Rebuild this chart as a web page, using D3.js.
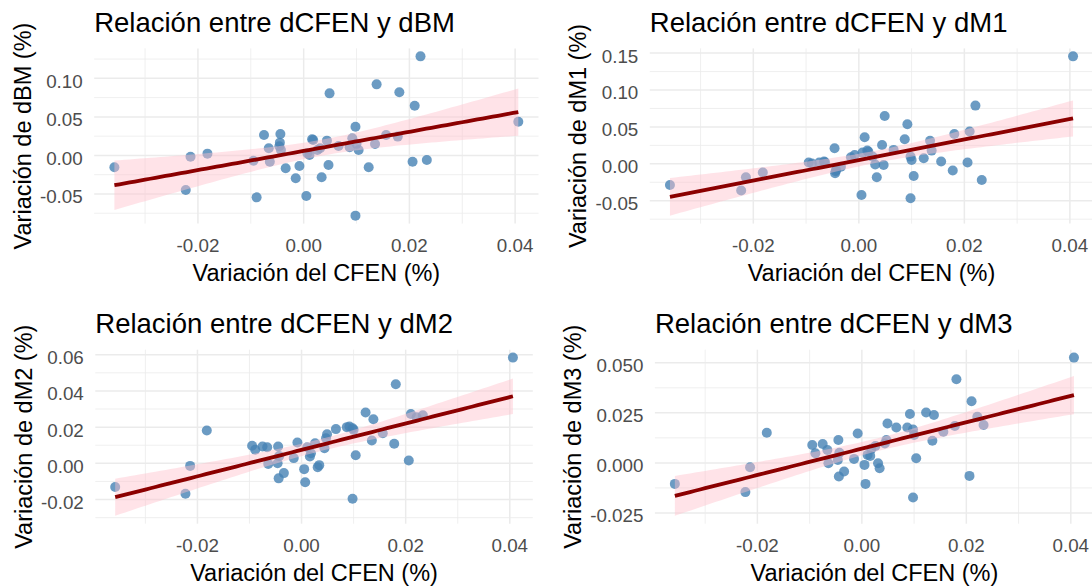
<!DOCTYPE html>
<html>
<head>
<meta charset="utf-8">
<script src="https://cdn.jsdelivr.net/npm/d3@7"></script>
<style>
  body { margin: 0; background: #fff; }
  text { font-family: "Liberation Sans", Arial, sans-serif; }
</style>
</head>
<body>
<div id="chart"></div>
<script>
// dCFEN is shared by the four panels
var dCFEN = [-0.0358, -0.0223, -0.0214, -0.0182, -0.0095, -0.0089, -0.0075, -0.0066, -0.0064,
  -0.0046, -0.0045, -0.0043, -0.0044, -0.0034, -0.0015, -0.0008, 0.0005, 0.0007, 0.0011,
  0.0016, 0.0018, 0.0026, 0.0031, 0.0034, 0.0044, 0.0047, 0.0049, 0.0066, 0.0087, 0.0092,
  0.0098, 0.0098, 0.0100, 0.0104, 0.0123, 0.0135, 0.0138, 0.0156, 0.0178, 0.0181, 0.0206,
  0.0210, 0.0221, 0.0233, 0.0406];

var dBM = [-0.0154, -0.0448, -0.0016, 0.0023, -0.0068, -0.0544, 0.0265, 0.0092, -0.0081,
  0.0120, 0.0166, 0.0070, 0.0278, -0.0167, -0.0297, -0.0137, -0.0526, 0.0027, 0.0006,
  0.0209, 0.0200, 0.0070, 0.0092, -0.0284, 0.0192, -0.0124, 0.0805, 0.0122, 0.0105, 0.0222,
  0.0373, -0.0781, 0.0150, 0.0070, -0.0154, 0.0148, 0.0922, 0.0265, 0.0244, 0.0819, -0.0081,
  0.0645, 0.1285, -0.0060, 0.0438];

var dM1 = [-0.0287, -0.0362, -0.0181, -0.0118, 0.0017, 0.0004, 0.0017, 0.0031, 0.0020,
  0.0210, -0.0128, -0.0083, -0.0100, -0.0038, 0.0089, 0.0120, -0.0421, 0.0152, 0.0360,
  0.0179, 0.0165, 0.0098, -0.0008, -0.0181, 0.0256, -0.0015, 0.0649, 0.0189, 0.0333, 0.0536,
  0.0098, -0.0467, 0.0053, -0.0164, 0.0075, 0.0313, 0.0179, 0.0031, -0.0091, 0.0405, 0.0017,
  0.0437, 0.0789, -0.0218, 0.1456];

var dM2 = [-0.0131, -0.0168, -0.0014, 0.0181, 0.0097, 0.0075, 0.0093, 0.0089, -0.0003,
  0.0001, 0.0093, 0.0040, -0.0083, -0.0054, 0.0029, 0.0115, -0.0032, -0.0104, 0.0089,
  0.0038, 0.0056, 0.0111, -0.0021, -0.0010, 0.0084, 0.0139, 0.0161, 0.0189, 0.0200, 0.0203,
  0.0194, -0.0196, 0.0185, 0.0045, 0.0281, 0.0126, 0.0244, 0.0166, 0.0108, 0.0437, 0.0016,
  0.0273, 0.0255, 0.0266, 0.0584];

var dM3 = [-0.0105, -0.0146, -0.0022, 0.0151, 0.0089, 0.0048, 0.0094, 0.0064, -0.0002,
  0.0015, 0.0114, 0.0051, -0.0068, -0.0043, 0.0020, 0.0147, -0.0010, -0.0105, 0.0040,
  0.0035, 0.0070, 0.0084, -0.0002, -0.0027, 0.0097, 0.0114, 0.0197, 0.0177, 0.0177, 0.0244,
  0.0167, -0.0173, 0.0139, 0.0023, 0.0252, 0.0111, 0.0239, 0.0156, 0.0184, 0.0418, -0.0065,
  0.0308, 0.0230, 0.0189, 0.0526];

var xTicks = [-0.02, 0, 0.02, 0.04];
var bmTicks = [-0.05, 0, 0.05, 0.10];
var m1Ticks = [-0.05, 0, 0.05, 0.10, 0.15];
var m2Ticks = [-0.02, 0, 0.02, 0.04, 0.06];
var m3Ticks = [-0.025, 0, 0.025, 0.050];

var locale = d3.formatLocale({decimal: ".", thousands: ",", grouping: [3], currency: ["", ""], minus: "-"});

var svg = d3.select("#chart").append("svg")
    .attr("width", 1092)
    .attr("height", 586);

var panels = [
  {y: dBM, name: "dBM", ticks: bmTicks, fmt: locale.format(".2f"),
   box: {left: 94.2, right: 538.5, top: 48.4, bottom: 223.6}},
  {y: dM1, name: "dM1", ticks: m1Ticks, fmt: locale.format(".2f"),
   box: {left: 649.8, right: 1093.2, top: 48.4, bottom: 223.6}},
  {y: dM2, name: "dM2", ticks: m2Ticks, fmt: locale.format(".2f"),
   box: {left: 95.3, right: 532.8, top: 349.7, bottom: 523.7}},
  {y: dM3, name: "dM3", ticks: m3Ticks, fmt: locale.format(".3f"),
   box: {left: 654.9, right: 1093.9, top: 349.7, bottom: 523.7}}
];

// lm fit with a 95% confidence band, like geom_smooth(method = "lm")
function fitLm(xs, ys) {
  var n = xs.length,
      mx = d3.mean(xs),
      my = d3.mean(ys),
      sxx = d3.sum(xs, function(x) { return (x - mx) * (x - mx); }),
      sxy = d3.sum(xs, function(x, i) { return (x - mx) * (ys[i] - my); }),
      b = sxy / sxx,
      a = my - b * mx,
      rss = d3.sum(xs, function(x, i) { var r = ys[i] - (a + b * x); return r * r; }),
      s = Math.sqrt(rss / (n - 2)),
      t = 2.0167;
  var x0 = d3.min(xs), x1 = d3.max(xs), pts = [];
  for (var k = 0; k < 80; k++) {
    var x = x0 + (x1 - x0) * k / 79,
        fit = a + b * x,
        se = s * Math.sqrt(1 / n + (x - mx) * (x - mx) / sxx);
    pts.push({x: x, fit: fit, lo: fit - t * se, hi: fit + t * se});
  }
  return pts;
}

function expand(ext) {
  var pad = (ext[1] - ext[0]) * 0.05;
  return [ext[0] - pad, ext[1] + pad];
}

function minorBreaks(ticks, domain) {
  var step = ticks[1] - ticks[0], out = [];
  for (var v = ticks[0] - step / 2; v <= domain[1]; v += step) {
    if (v >= domain[0]) out.push(v);
  }
  return out;
}

panels.forEach(function(p) {
  var b = p.box,
      data = dCFEN.map(function(x, i) { return {x: x, y: p.y[i]}; }),
      smooth = fitLm(dCFEN, p.y);

  var x = d3.scaleLinear()
      .domain(expand(d3.extent(dCFEN)))
      .range([b.left, b.right]);

  var yExt = [Math.min(d3.min(p.y), d3.min(smooth, function(d) { return d.lo; })),
              Math.max(d3.max(p.y), d3.max(smooth, function(d) { return d.hi; }))];
  var y = d3.scaleLinear()
      .domain(expand(yExt))
      .range([b.bottom, b.top]);

  var g = svg.append("g");

  // grid
  var grid = g.append("g");
  grid.selectAll(".xminor").data(minorBreaks(xTicks, x.domain())).enter().append("line")
      .attr("x1", x).attr("x2", x).attr("y1", b.top).attr("y2", b.bottom)
      .attr("stroke", "#ebebeb").attr("stroke-width", 0.8);
  grid.selectAll(".yminor").data(minorBreaks(p.ticks, y.domain())).enter().append("line")
      .attr("y1", y).attr("y2", y).attr("x1", b.left).attr("x2", b.right)
      .attr("stroke", "#ebebeb").attr("stroke-width", 0.8);
  grid.selectAll(".xmajor").data(xTicks).enter().append("line")
      .attr("x1", x).attr("x2", x).attr("y1", b.top).attr("y2", b.bottom)
      .attr("stroke", "#ebebeb").attr("stroke-width", 1.5);
  grid.selectAll(".ymajor").data(p.ticks).enter().append("line")
      .attr("y1", y).attr("y2", y).attr("x1", b.left).attr("x2", b.right)
      .attr("stroke", "#ebebeb").attr("stroke-width", 1.5);

  // points
  g.append("g").selectAll("circle").data(data).enter().append("circle")
      .attr("cx", function(d) { return x(d.x); })
      .attr("cy", function(d) { return y(d.y); })
      .attr("r", 5)
      .attr("fill", "steelblue")
      .attr("fill-opacity", 0.8);

  // smooth
  g.append("path")
      .datum(smooth)
      .attr("fill", "pink")
      .attr("fill-opacity", 0.45)
      .attr("d", d3.area()
          .x(function(d) { return x(d.x); })
          .y0(function(d) { return y(d.lo); })
          .y1(function(d) { return y(d.hi); }));

  g.append("path")
      .datum(smooth)
      .attr("fill", "none")
      .attr("stroke", "darkred")
      .attr("stroke-width", 3.8)
      .attr("d", d3.line()
          .x(function(d) { return x(d.x); })
          .y(function(d) { return y(d.fit); }));

  // x tick labels
  g.selectAll(".xlab").data(xTicks).enter().append("text")
      .attr("x", x)
      .attr("y", b.bottom + 28)
      .attr("text-anchor", "middle")
      .attr("font-size", 18.8)
      .attr("fill", "#4d4d4d")
      .text(locale.format(".2f"));

  // y tick labels
  var ylabs = g.selectAll(".ylab").data(p.ticks).enter().append("text")
      .attr("x", b.left - 11.5)
      .attr("y", function(d) { return y(d) + 9.4; })
      .attr("text-anchor", "end")
      .attr("font-size", 18.8)
      .attr("fill", "#4d4d4d")
      .text(p.fmt);

  var maxW = 0;
  ylabs.each(function() { maxW = Math.max(maxW, this.getComputedTextLength()); });

  // titles
  g.append("text")
      .attr("x", b.left)
      .attr("y", b.top - 16.7)
      .attr("font-size", 27.5)
      .attr("fill", "#000")
      .text("Relación entre dCFEN y " + p.name);

  g.append("text")
      .attr("x", (b.left + b.right) / 2)
      .attr("y", b.bottom + 57.5)
      .attr("text-anchor", "middle")
      .attr("font-size", 23.5)
      .attr("fill", "#000")
      .text("Variación del CFEN (%)");

  var ty = (b.top + b.bottom) / 2, tx = b.left - 11.5 - maxW - 9;
  g.append("text")
      .attr("transform", "translate(" + tx + "," + ty + ") rotate(-90)")
      .attr("text-anchor", "middle")
      .attr("font-size", 23.5)
      .attr("fill", "#000")
      .text("Variación de " + p.name + " (%)");
});
</script>
</body>
</html>
